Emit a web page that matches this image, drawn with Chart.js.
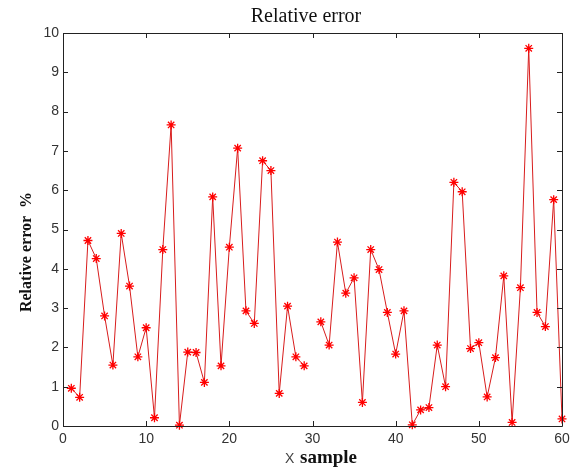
<!DOCTYPE html>
<html>
<head>
<meta charset="utf-8">
<script src="https://cdn.jsdelivr.net/npm/chart.js@4/dist/chart.umd.min.js"></script>
<style>
  html, body { margin: 0; padding: 0; background: #fff; }
  canvas { display: block; }
</style>
</head>
<body>
<canvas id="c" width="576" height="468"></canvas>
<script>
// ---- data ----
const samples = [1,2,3,4,5,6,7,8,9,10,11,12,13,14,15,16,17,18,19,20,
                 21,22,23,24,25,26,27,28,29,30,31,32,33,34,35,36,37,38,39,40,
                 41,42,43,44,45,46,47,48,49,50,51,52,53,54,55,56,57,58,59,60];
const relErr = [0.96,0.73,4.72,4.26,2.80,1.55,4.90,3.56,1.76,2.50,
                0.21,4.49,7.66,0.02,1.88,1.87,1.11,5.83,1.53,4.55,
                7.07,2.93,2.61,6.75,6.50,0.83,3.05,1.76,1.53,null,
                2.65,2.06,4.68,3.38,3.77,0.60,4.49,3.98,2.89,1.83,
                2.93,0.03,0.41,0.47,2.06,1.00,6.20,5.96,1.97,2.12,
                0.74,1.74,3.82,0.09,3.52,9.61,2.89,2.53,5.76,0.18];
const xTicks = [0,10,20,30,40,50,60];
const yTicks = [0,1,2,3,4,5,6,7,8,9,10];
const titleText = "Relative error";
const xLabelA = "X";
const xLabelB = "sample";
const yLabelText = "Relative error  %";

const points = samples.map((s, i) => ({ x: s, y: relErr[i] }));

const framePlugin = {
  id: 'frame',
  afterDatasetsDraw(chart) {
    const { ctx, chartArea: a, scales: { x, y } } = chart;
    ctx.save();
    ctx.strokeStyle = '#222';
    ctx.lineWidth = 1;
    ctx.beginPath();
    ctx.rect(Math.round(a.left) + 0.5, Math.round(a.top) + 0.5,
             Math.round(a.right - a.left), Math.round(a.bottom - a.top));
    ctx.stroke();
    const tl = 5;
    ctx.beginPath();
    xTicks.forEach(v => {
      const px = Math.round(x.getPixelForValue(v)) + 0.5;
      ctx.moveTo(px, a.bottom); ctx.lineTo(px, a.bottom - tl);
      ctx.moveTo(px, a.top); ctx.lineTo(px, a.top + tl);
    });
    yTicks.forEach(v => {
      const py = Math.round(y.getPixelForValue(v)) + 0.5;
      ctx.moveTo(a.left, py); ctx.lineTo(a.left + tl, py);
      ctx.moveTo(a.right, py); ctx.lineTo(a.right - tl, py);
    });
    ctx.stroke();

    // title
    ctx.fillStyle = '#111';
    ctx.textBaseline = 'alphabetic';
    ctx.textAlign = 'center';
    ctx.font = '20px "Liberation Serif", "Times New Roman", serif';
    ctx.fillText(titleText, 306, 22);

    // x label
    ctx.textAlign = 'left';
    ctx.font = '14px "Liberation Sans", Arial, sans-serif';
    ctx.fillStyle = '#444';
    ctx.fillText(xLabelA, 285, 463);
    ctx.fillStyle = '#111';
    ctx.font = 'bold 19px "Liberation Serif", "Times New Roman", serif';
    ctx.fillText(xLabelB, 300, 463);

    // y label
    ctx.save();
    ctx.translate(31, 252);
    ctx.rotate(-Math.PI / 2);
    ctx.textAlign = 'center';
    ctx.font = 'bold 16px "Liberation Serif", "Times New Roman", serif';
    ctx.fillText(yLabelText, 0, 0);
    ctx.restore();
    ctx.restore();
  }
};

new Chart(document.getElementById('c'), {
  type: 'line',
  data: {
    datasets: [{
      data: points,
      borderColor: '#d81c1c',
      borderWidth: 1,
      backgroundColor: '#ff0000',
      pointStyle: 'star',
      pointRadius: 4.5,
      pointBorderColor: '#ff0000',
      pointBorderWidth: 1.3,
      pointHoverRadius: 4.5,
      tension: 0,
      spanGaps: false,
      clip: false,
      fill: false
    }]
  },
  options: {
    responsive: false,
    devicePixelRatio: 1,
    animation: false,
    events: [],
    layout: { padding: { top: 33, right: 14, left: 0, bottom: 0 } },
    plugins: { legend: { display: false }, title: { display: false }, tooltip: { enabled: false } },
    scales: {
      x: {
        type: 'linear', min: 0, max: 60,
        afterFit: s => { s.height = 42; },
        afterBuildTicks: s => { s.ticks = xTicks.map(v => ({ value: v })); },
        grid: { display: false, drawTicks: false },
        border: { display: false },
        ticks: { padding: 5, color: '#333', font: { family: '"Liberation Sans", Arial, sans-serif', size: 14 }, maxRotation: 0 }
      },
      y: {
        type: 'linear', min: 0, max: 10,
        afterFit: s => { s.width = 63; },
        afterBuildTicks: s => { s.ticks = yTicks.map(v => ({ value: v })); },
        grid: { display: false, drawTicks: false },
        border: { display: false },
        ticks: { padding: 4, color: '#333', font: { family: '"Liberation Sans", Arial, sans-serif', size: 14 } }
      }
    }
  },
  plugins: [framePlugin]
});
</script>
</body>
</html>
